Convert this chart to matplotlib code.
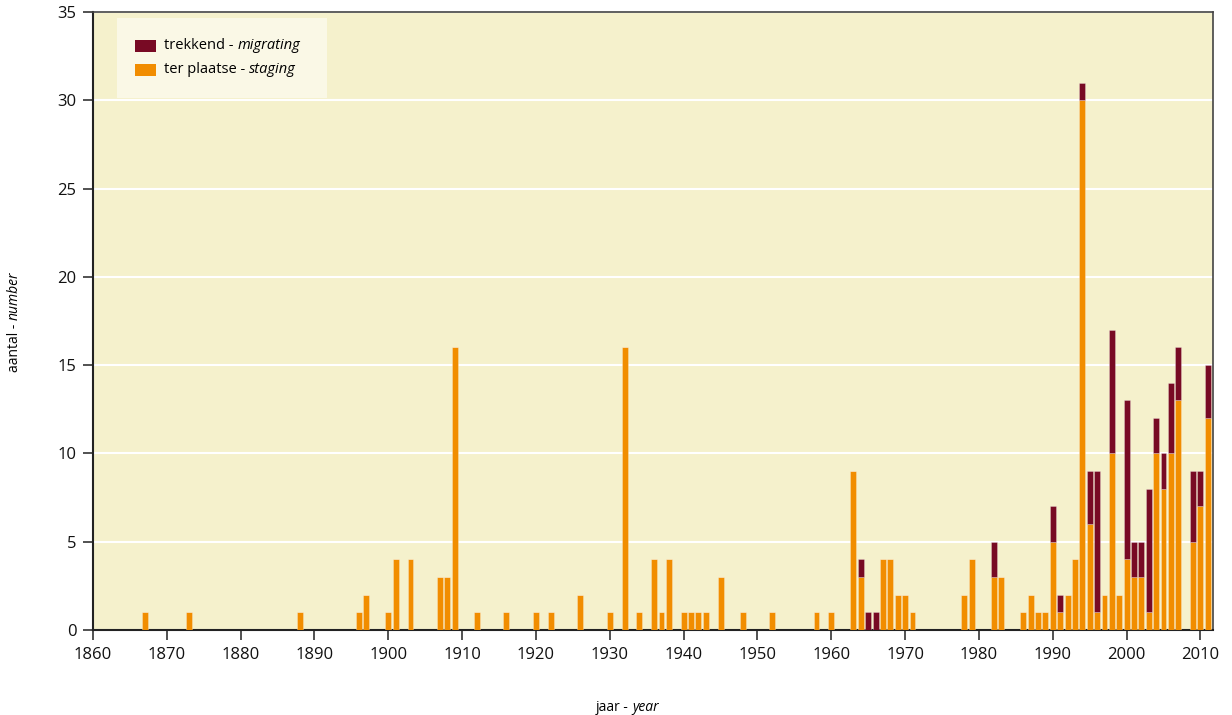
import matplotlib
matplotlib.use('Agg')
import matplotlib.pyplot as plt
from matplotlib.patches import Rectangle
import numpy as np

# counts per year: staging (ter plaatse) and migrating (trekkend)
years = [1867, 1873, 1888, 1896, 1897, 1900, 1901, 1903, 1907, 1908, 1909,
         1912, 1916, 1920, 1922, 1926, 1930, 1932, 1934, 1936, 1937, 1938,
         1940, 1941, 1942, 1943, 1945, 1948, 1952, 1958, 1960, 1963, 1964,
         1965, 1966, 1967, 1968, 1969, 1970, 1971, 1978, 1979, 1982, 1983,
         1986, 1987, 1988, 1989, 1990, 1991, 1992, 1993, 1994, 1995, 1996,
         1997, 1998, 1999, 2000, 2001, 2002, 2003, 2004, 2005, 2006, 2007,
         2009, 2010, 2011]
staging = [1, 1, 1, 1, 2, 1, 4, 4, 3, 3, 16,
           1, 1, 1, 1, 2, 1, 16, 1, 4, 1, 4,
           1, 1, 1, 1, 3, 1, 1, 1, 1, 9, 3,
           0, 0, 4, 4, 2, 2, 1, 2, 4, 3, 3,
           1, 2, 1, 1, 5, 1, 2, 4, 30, 6, 1,
           2, 10, 2, 4, 3, 3, 1, 10, 8, 10, 13,
           5, 7, 12]
migrating = [0, 0, 0, 0, 0, 0, 0, 0, 0, 0, 0,
             0, 0, 0, 0, 0, 0, 0, 0, 0, 0, 0,
             0, 0, 0, 0, 0, 0, 0, 0, 0, 0, 1,
             1, 1, 0, 0, 0, 0, 0, 0, 0, 2, 0,
             0, 0, 0, 0, 2, 1, 0, 0, 1, 3, 8,
             0, 7, 0, 9, 2, 2, 7, 2, 2, 4, 3,
             4, 2, 3]

x_ticks = list(range(1860, 2011, 10))
y_ticks = list(range(0, 36, 5))

ORANGE = '#F18D00'
DARKRED = '#780A24'
BG = '#F5F1CC'
FONT = 'Open Sans'

plt.rcParams['font.family'] = [FONT, 'DejaVu Sans']

fig = plt.figure(figsize=(12.32, 7.15), dpi=100)
ax = fig.add_axes([93 / 1232, 85 / 715, 1120 / 1232, 618 / 715])
ax.set_facecolor(BG)

staging = np.array(staging)
migrating = np.array(migrating)
ax.bar(years, staging, width=0.8, color=ORANGE, edgecolor=(1, 1, 1, 0.3),
       linewidth=0.6, zorder=3)
ax.bar(years, migrating, width=0.8, bottom=staging, color=DARKRED,
       edgecolor=(1, 1, 1, 0.3), linewidth=0.6, zorder=3)

ax.set_xlim(1860, 2011.7)
ax.set_ylim(0, 35)
ax.set_xticks(x_ticks)
ax.set_yticks(y_ticks)
ax.yaxis.grid(True, color='white', linewidth=1.5, zorder=1)
ax.set_axisbelow(True)
ax.tick_params(axis='both', direction='out', length=7, width=1.2,
               color='#333333', labelsize=12, labelcolor='#111111', pad=5)
for side in ['left', 'bottom']:
    ax.spines[side].set_linewidth(1.5)
    ax.spines[side].set_color('#222222')
for side in ['top', 'right']:
    ax.spines[side].set_linewidth(1.2)
    ax.spines[side].set_color('#444444')


def two_style(x, y, plain, italic, size, rotation=0, transform=None):
    t1 = fig.text(x, y, plain, fontsize=size, rotation=rotation,
                  ha='left', va='bottom', transform=transform or fig.transFigure)
    if rotation:
        fig.add_artist(plt.Annotation(italic, xy=(0, 1), xycoords=t1,
                                      fontsize=size, style='italic',
                                      rotation=rotation, ha='left', va='bottom'))
    else:
        fig.add_artist(plt.Annotation(italic, xy=(1, 0), xycoords=t1,
                                      fontsize=size, style='italic',
                                      ha='left', va='bottom'))
    return t1


# axis labels
two_style(596 / 1232, 1 - 715 / 715, 'jaar - ', 'year', 10)
two_style(7 / 1232, 1 - 372 / 715, 'aantal - ', 'number', 10, rotation=90)

# legend box
ax.add_patch(Rectangle((0.0214, 0.861), 0.1875, 0.129, transform=ax.transAxes,
                       facecolor='#FAF8E6', edgecolor='none', zorder=4))
ax.add_patch(Rectangle((0.0375, 0.9353), 0.0188, 0.0194, transform=ax.transAxes,
                       facecolor=DARKRED, edgecolor='none', zorder=5))
ax.add_patch(Rectangle((0.0375, 0.8964), 0.0188, 0.0194, transform=ax.transAxes,
                       facecolor=ORANGE, edgecolor='none', zorder=5))
two_style(0.0634, 0.934, 'trekkend - ', 'migrating', 10.5, transform=ax.transAxes)
two_style(0.0634, 0.895, 'ter plaatse - ', 'staging', 10.5, transform=ax.transAxes)

fig.savefig('out.png', dpi=100)
